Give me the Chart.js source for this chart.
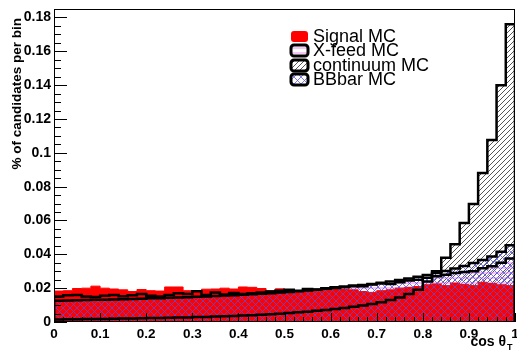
<!DOCTYPE html>
<html>
<head>
<meta charset="utf-8">
<script src="https://cdn.jsdelivr.net/npm/chart.js@4.4.0/dist/chart.umd.min.js"></script>
<style>
  body { margin: 0; background: #fff; }
  canvas { display: block; }
</style>
</head>
<body>
<canvas id="histChart" width="517" height="351"></canvas>
<script>
// 50 bins of cos(theta_T) between 0 and 1, each normalised to unity
const signalMC = [
    0.0183, 0.0185, 0.0198, 0.0200, 0.0212, 0.0200, 0.0195, 0.0190, 0.0180, 0.0192,
    0.0185, 0.0183, 0.0207, 0.0207, 0.0185, 0.0182, 0.0194, 0.0195, 0.0200, 0.0195,
    0.0207, 0.0205, 0.0198, 0.0185, 0.0196, 0.0180, 0.0178, 0.0190, 0.0185, 0.0200,
    0.0198, 0.0192, 0.0190, 0.0180, 0.0175, 0.0185, 0.0190, 0.0200, 0.0205, 0.0210,
    0.0220, 0.0225, 0.0215, 0.0230, 0.0222, 0.0215, 0.0235, 0.0228, 0.0220, 0.0215
];
const xfeedMC = [
    0.0150, 0.0158, 0.0160, 0.0150, 0.0148, 0.0155, 0.0160, 0.0152, 0.0158, 0.0165,
    0.0155, 0.0150, 0.0160, 0.0170, 0.0165, 0.0182, 0.0160, 0.0175, 0.0162, 0.0172,
    0.0165, 0.0170, 0.0175, 0.0180, 0.0185, 0.0190, 0.0185, 0.0195, 0.0192, 0.0200,
    0.0205, 0.0210, 0.0215, 0.0212, 0.0222, 0.0228, 0.0225, 0.0235, 0.0245, 0.0250,
    0.0262, 0.0270, 0.0280, 0.0290, 0.0295, 0.0300, 0.0318, 0.0330, 0.0350, 0.0375
];
const continuumMC = [
    0.0015, 0.0016, 0.0016, 0.0017, 0.0018, 0.0018, 0.0019, 0.0020, 0.0021, 0.0022,
    0.0023, 0.0024, 0.0025, 0.0026, 0.0027, 0.0029, 0.0030, 0.0032, 0.0034, 0.0036,
    0.0038, 0.0040, 0.0043, 0.0046, 0.0049, 0.0053, 0.0057, 0.0061, 0.0066, 0.0071,
    0.0077, 0.0083, 0.0090, 0.0098, 0.0107, 0.0117, 0.0130, 0.0145, 0.0165, 0.0190,
    0.0240, 0.0300, 0.0380, 0.0460, 0.0585, 0.0697, 0.0880, 0.1075, 0.1400, 0.1760
];
const bbbarMC = [
    0.0125, 0.0127, 0.0128, 0.0130, 0.0131, 0.0132, 0.0133, 0.0135, 0.0136, 0.0138,
    0.0140, 0.0141, 0.0143, 0.0145, 0.0147, 0.0149, 0.0151, 0.0153, 0.0156, 0.0158,
    0.0161, 0.0164, 0.0167, 0.0170, 0.0174, 0.0178, 0.0182, 0.0186, 0.0191, 0.0196,
    0.0201, 0.0206, 0.0212, 0.0218, 0.0225, 0.0232, 0.0240, 0.0248, 0.0257, 0.0267,
    0.0278, 0.0290, 0.0302, 0.0316, 0.0331, 0.0348, 0.0366, 0.0387, 0.0415, 0.0454
];
const legendLabels = ['Signal MC', 'X-feed MC', 'continuum MC', 'BBbar MC'];

// ROOT style step outline: left edge of every bin, then back down at x = 1
function histPoints(vals) {
    var pts = [{x: 0, y: 0}];
    vals.forEach(function (v, i) {
        pts.push({x: i / vals.length, y: v});
    });
    pts.push({x: 1, y: vals[vals.length - 1]});
    pts.push({x: 1, y: 0});
    return pts;
}

// hatch fills like ROOT fill styles 3004 / 3007 / 3013
function makePattern(kind, color, size) {
    var c = document.createElement('canvas');
    c.width = size; c.height = size;
    var g = c.getContext('2d');
    g.strokeStyle = color;
    g.lineWidth = 1;
    g.beginPath();
    if (kind === 'slash' || kind === 'cross') {
        g.moveTo(0, size); g.lineTo(size, 0);
        g.moveTo(-1, 1); g.lineTo(1, -1);
        g.moveTo(size - 1, size + 1); g.lineTo(size + 1, size - 1);
    }
    if (kind === 'back' || kind === 'cross') {
        g.moveTo(0, 0); g.lineTo(size, size);
        g.moveTo(size - 1, -1); g.lineTo(size + 1, 1);
        g.moveTo(-1, size - 1); g.lineTo(1, size + 1);
    }
    if (kind === 'horiz') {
        g.moveTo(0, size / 2 + 0.5); g.lineTo(size, size / 2 + 0.5);
    }
    g.stroke();
    return g.createPattern(c, 'repeat');
}

var ctx = document.getElementById('histChart').getContext('2d');
const contHatch = makePattern('slash', '#555', 5);
const xfeedHatch = makePattern('horiz', '#ee88ee', 5);
const bbbarHatch = makePattern('cross', 'rgba(80,80,235,0.75)', 7);

function fillSet(vals, fill, ord, border) {
    return {
        data: histPoints(vals),
        stepped: true,
        fill: 'origin',
        backgroundColor: fill,
        borderColor: border || 'rgba(0,0,0,0)',
        borderWidth: border ? 1 : 0,
        pointRadius: 0,
        order: ord
    };
}
function lineSet(vals, ord) {
    return {
        data: histPoints(vals),
        stepped: true,
        fill: false,
        borderColor: '#000',
        borderWidth: 2.5,
        borderJoinStyle: 'miter',
        pointRadius: 0,
        order: ord
    };
}

const rootDecor = {
    id: 'rootDecor',
    afterDatasetsDraw: function (chart) {
        var c = chart.ctx, a = chart.chartArea, xs = chart.scales.x, ys = chart.scales.y;
        c.save();
        c.strokeStyle = '#000';
        c.lineWidth = 1;
        c.strokeRect(a.left + 0.5, a.top + 0.5, a.right - a.left - 1, a.bottom - a.top - 1);
        c.beginPath();
        for (var k = 0; k * 0.005 <= ys.max + 1e-9; k++) {
            var py = Math.round(ys.getPixelForValue(k * 0.005)) + 0.5;
            c.moveTo(a.left, py);
            c.lineTo(a.left + (k % 4 === 0 ? 13 : 7), py);
        }
        for (var j = 0; j <= 50; j++) {
            var px = Math.round(xs.getPixelForValue(j * 0.02)) + 0.5;
            c.moveTo(px, a.bottom);
            c.lineTo(px, a.bottom - (j % 5 === 0 ? 9 : 5));
        }
        c.stroke();
        c.restore();
    },
    afterDraw: function (chart) {
        var c = chart.ctx;
        c.save();
        c.fillStyle = '#000';
        // axis titles
        c.font = 'bold 13.5px "Liberation Sans"';
        c.textBaseline = 'alphabetic';
        c.save();
        c.translate(21, 18);
        c.rotate(-Math.PI / 2);
        c.textAlign = 'right';
        c.fillText('% of candidates per bin', 0, 0);
        c.restore();
        c.font = 'bold 14px "Liberation Sans"';
        c.textAlign = 'right';
        c.fillText('cos \u03b8', 506, 346);
        c.font = 'bold 9px "Liberation Sans"';
        c.textAlign = 'left';
        c.fillText('T', 507, 350);

        // legend
        var fills = ['#ff0000', xfeedHatch, contHatch, bbbarHatch];
        var base = [42, 56, 71, 85];
        c.font = '18px "Liberation Sans"';
        for (var i = 0; i < legendLabels.length; i++) {
            var bx = 291, by = base[i] - 11, bw = 17, bh = 11;
            c.beginPath();
            c.roundRect(bx, by, bw, bh, 3);
            if (i === 0) {
                c.fillStyle = '#ff0000';
                c.fill();
            } else {
                c.fillStyle = '#fff';
                c.fill();
                c.fillStyle = fills[i];
                c.fill();
                c.lineWidth = 3;
                c.strokeStyle = '#000';
                c.stroke();
            }
            c.fillStyle = '#000';
            c.fillText(legendLabels[i], 313, base[i]);
        }
        c.restore();
    }
};

var histChart = new Chart(ctx, {
    type: 'line',
    plugins: [rootDecor],
    data: {
        datasets: [
            lineSet(xfeedMC, 1),
            lineSet(bbbarMC, 2),
            lineSet(continuumMC, 3),
            fillSet(bbbarMC, bbbarHatch, 7),
            fillSet(signalMC, '#ff0000', 8, '#ff0000'),
            fillSet(xfeedMC, xfeedHatch, 9),
            fillSet(continuumMC, contHatch, 10)
        ]
    },
    options: {
        responsive: false,
        animation: false,
        layout: {
            padding: {top: 9, right: 2, left: 0, bottom: 0}
        },
        plugins: {
            legend: {display: false},
            tooltip: {enabled: false}
        },
        scales: {
            x: {
                type: 'linear',
                min: 0,
                max: 1,
                afterFit: function (scale) {
                    scale.height = 29;
                    scale.paddingLeft = 0;
                    scale.paddingRight = 0;
                },
                grid: {display: false, drawTicks: false},
                border: {display: false},
                ticks: {
                    stepSize: 0.1,
                    autoSkip: false,
                    maxRotation: 0,
                    padding: 4,
                    color: '#000',
                    font: {family: 'Liberation Sans', size: 13.5, weight: 'bold'},
                    callback: function (v) { return String(+v.toFixed(2)); }
                }
            },
            y: {
                type: 'linear',
                min: 0,
                max: 0.185,
                afterFit: function (scale) {
                    scale.width = 54;
                    scale.paddingTop = 0;
                    scale.paddingBottom = 0;
                },
                grid: {display: false, drawTicks: false},
                border: {display: false},
                ticks: {
                    stepSize: 0.02,
                    includeBounds: false,
                    padding: 3,
                    color: '#000',
                    font: {family: 'Liberation Sans', size: 14, weight: 'bold'},
                    callback: function (v) { return String(+v.toFixed(2)); }
                }
            }
        }
    }
});
</script>
</body>
</html>
